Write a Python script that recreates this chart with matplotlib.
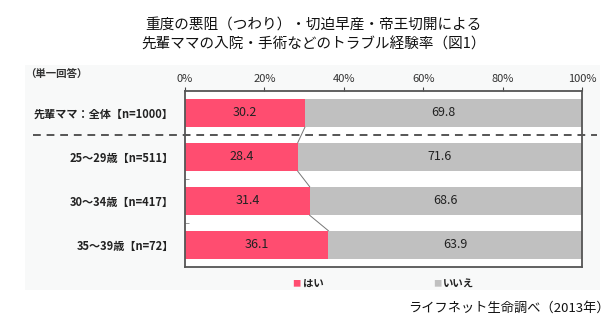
import matplotlib
matplotlib.use("Agg")
import matplotlib.pyplot as plt
from matplotlib.lines import Line2D
from matplotlib.patches import Rectangle
import numpy as np

plt.rcParams['font.family'] = ['Noto Sans CJK JP', 'DejaVu Sans']

# data
categories = ['先輩ママ：全体【n=1000】', '25～29歳【n=511】', '30～34歳【n=417】', '35～39歳【n=72】']
yes_vals = [30.2, 28.4, 31.4, 36.1]
no_vals = [69.8, 71.6, 68.6, 63.9]
series_names = ['はい', 'いいえ']
tick_vals = [0, 20, 40, 60, 80, 100]

pink = '#ff4d70'
gray = '#c0c0c0'

fig = plt.figure(figsize=(6.12, 3.26), dpi=100)

# faint panel behind the plot
fig.patches.append(Rectangle((0.041, 0.110), 0.940, 0.690, transform=fig.transFigure,
                             facecolor='#f8f9f9', edgecolor='none', zorder=-1))

ax = fig.add_axes([0.3023, 0.181, 0.6487, 0.540])
ax.set_zorder(2)
ax.set_facecolor('white')

y = np.arange(len(categories))
h = 0.65
ax.barh(y, yes_vals, height=h, color=pink, zorder=2)
ax.barh(y, no_vals, left=yes_vals, height=h, color=gray, zorder=2)

# series lines between bars
for i in range(len(categories) - 1):
    ax.plot([yes_vals[i], yes_vals[i + 1]], [y[i] + h / 2, y[i + 1] - h / 2],
            color='#777777', lw=0.7, zorder=3)

for i in range(len(categories)):
    ax.text(yes_vals[i] / 2, y[i], f'{yes_vals[i]:.1f}', ha='center', va='center',
            fontsize=9, color='#222222', zorder=4)
    ax.text(yes_vals[i] + no_vals[i] / 2, y[i], f'{no_vals[i]:.1f}', ha='center', va='center',
            fontsize=9, color='#222222', zorder=4)

ax.set_xlim(0, 100)
ax.set_ylim(len(categories) - 0.5, -0.5)
ax.xaxis.tick_top()
ax.set_xticks(tick_vals)
ax.set_xticklabels([f'{t}%' for t in tick_vals], fontsize=8, color='#333333')
ax.tick_params(axis='x', direction='out', length=3, width=0.8, pad=2, colors='#444444')
ax.tick_params(axis='x', labelcolor='#333333')

ax.set_yticks(y)
ax.set_yticklabels(categories, fontsize=8, fontweight='bold', color='#222222')
ax.tick_params(axis='y', length=0, pad=8)
ax.set_yticks(y[:-1] + 0.5, minor=True)
ax.tick_params(axis='y', which='minor', direction='in', length=3, color='#888888')

for s in ax.spines.values():
    s.set_color('#555555')
    s.set_linewidth(1.3)

# dashed separator under the total row
fig.lines.append(Line2D([0.054, 0.975], [0.586, 0.586], transform=fig.transFigure,
                        color='#555555', lw=1.4, linestyle=(0, (4, 3)), zorder=5))

fig.text(0.512, 0.923, '重度の悪阻（つわり）・切迫早産・帝王切開による', ha='center', va='center',
         fontsize=10.5, color='#111111')
fig.text(0.512, 0.865, '先輩ママの入院・手術などのトラブル経験率（図1）', ha='center', va='center',
         fontsize=10.5, color='#111111')
fig.text(0.041, 0.770, '（単一回答）', ha='left', va='center', fontsize=7.5,
         fontweight='bold', color='#333333')

# legend
fig.text(0.485, 0.129, '■', ha='center', va='center', fontsize=6, color=pink)
fig.text(0.495, 0.129, series_names[0], ha='left', va='center', fontsize=7.5,
         fontweight='bold', color='#222222')
fig.text(0.714, 0.129, '■', ha='center', va='center', fontsize=6, color=gray)
fig.text(0.724, 0.129, series_names[1], ha='left', va='center', fontsize=7.5,
         fontweight='bold', color='#222222')

fig.text(0.997, 0.055, 'ライフネット生命調べ（2013年）', ha='right', va='center',
         fontsize=9.5, color='#111111')

fig.savefig('out.png', dpi=100)
